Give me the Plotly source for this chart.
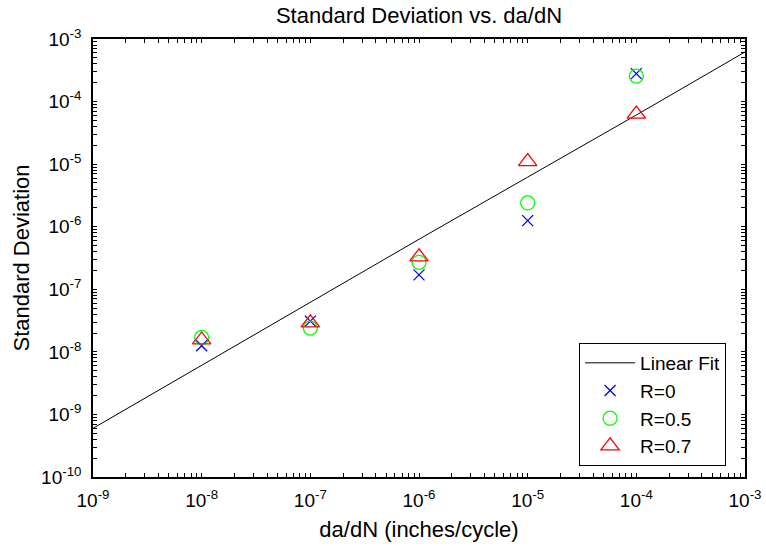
import plotly.graph_objects as go

x_vals = [1e-8, 1e-7, 1e-6, 1e-5, 1e-4]
r0 = [1.25e-8, 3.1e-8, 1.7e-7, 1.25e-6, 2.8e-4]
r05 = [1.7e-8, 2.4e-8, 2.7e-7, 2.4e-6, 2.55e-4]
r07 = [1.55e-8, 2.9e-8, 3.3e-7, 1.1e-5, 6.3e-5]
fit_x = [1e-9, 1e-8, 1e-7, 1e-6, 1e-5, 1e-4, 1e-3]
fit_y = [6.0e-10, 6.1e-9, 6.2e-8, 6.3e-7, 6.2e-6, 6.1e-5, 6.2e-4]

x_ticks = [1e-9, 1e-8, 1e-7, 1e-6, 1e-5, 1e-4, 1e-3]
x_labels = ["10<sup>-9</sup>", "10<sup>-8</sup>", "10<sup>-7</sup>", "10<sup>-6</sup>",
            "10<sup>-5</sup>", "10<sup>-4</sup>", "10<sup>-3</sup>"]
y_ticks = [1e-10, 1e-9, 1e-8, 1e-7, 1e-6, 1e-5, 1e-4, 1e-3]
y_labels = ["10<sup>-10</sup>", "10<sup>-9</sup>", "10<sup>-8</sup>", "10<sup>-7</sup>",
            "10<sup>-6</sup>", "10<sup>-5</sup>", "10<sup>-4</sup>", "10<sup>-3</sup>"]


def with_minor(ticks, labels):
    vals, texts = [], []
    for i, t in enumerate(ticks):
        vals.append(t)
        texts.append(labels[i])
        if i < len(ticks) - 1:
            for m in range(2, 10):
                vals.append(m * t)
                texts.append("")
    return vals, texts


x_all, x_text = with_minor(x_ticks, x_labels)
y_all, y_text = with_minor(y_ticks, y_labels)

font = "Liberation Sans, Arial, sans-serif"

fig = go.Figure()
fig.add_trace(go.Scatter(x=fit_x, y=fit_y, mode="lines", name="Linear Fit",
                         line=dict(color="black", width=1)))
fig.add_trace(go.Scatter(x=x_vals, y=r0, mode="markers", name="R=0",
                         marker=dict(symbol="x-thin-open", size=11,
                                     line=dict(color="blue", width=1.3), color="blue")))
fig.add_trace(go.Scatter(x=x_vals, y=r05, mode="markers", name="R=0.5",
                         marker=dict(symbol="circle-open", size=14,
                                     line=dict(color="#00ff00", width=1.3), color="#00ff00")))
fig.add_trace(go.Scatter(x=x_vals, y=r07, mode="markers", name="R=0.7",
                         marker=dict(symbol="triangle-up-open", size=16,
                                     line=dict(color="red", width=1.3), color="red")))

axis_common = dict(type="log", showgrid=False, zeroline=False, showline=True,
                   linecolor="black", linewidth=1.5, mirror="allticks",
                   ticks="inside", ticklen=4, tickcolor="black", tickwidth=1.2,
                   automargin=False,
                   tickfont=dict(family=font, size=19, color="black"))

fig.update_layout(
    width=766, height=546,
    margin=dict(l=93, r=21, t=39, b=69),
    paper_bgcolor="white", plot_bgcolor="white",
    title=dict(text="Standard Deviation vs. da/dN", x=0.547, xanchor="center",
               y=0.972, yanchor="middle",
               font=dict(family=font, size=22, color="black")),
    xaxis=dict(range=[-9, -3], tickmode="array", tickvals=x_all, ticktext=x_text,
               ticklabelstandoff=5,
               title=dict(text="da/dN (inches/cycle)", standoff=12,
                          font=dict(family=font, size=22, color="black")),
               **axis_common),
    yaxis=dict(range=[-10, -3], tickmode="array", tickvals=y_all, ticktext=y_text,
               ticklabelstandoff=6,
               title=dict(text="Standard Deviation", standoff=5,
                          font=dict(family=font, size=22, color="black")),
               **axis_common),
    legend=dict(x=0.971, y=0.306, xanchor="right", yanchor="top",
                bordercolor="black", borderwidth=1, bgcolor="white",
                font=dict(family=font, size=19, color="black"),
                tracegroupgap=0, itemwidth=50),
    showlegend=True,
)

fig.write_html("out.html")
